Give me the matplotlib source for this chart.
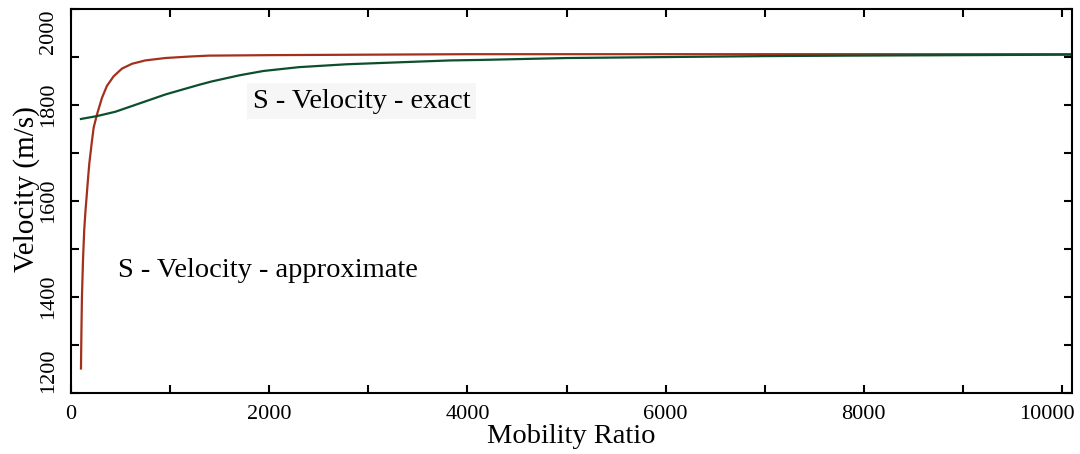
import matplotlib
matplotlib.use("Agg")
import matplotlib.pyplot as plt
from matplotlib.ticker import MultipleLocator
from matplotlib.transforms import ScaledTranslation

plt.rcParams["font.family"] = ["Liberation Serif", "DejaVu Serif"]

# values
approx_x = [101, 106, 111, 122, 134, 146, 158, 172, 185, 210, 229, 262, 313, 363,
            431, 515, 616, 750, 952, 1188, 1390, 2000, 3000, 4000, 6000, 8000, 10100]
approx_y = [1251, 1335, 1401, 1480, 1540, 1578, 1609, 1646, 1678, 1722, 1753, 1780,
            1815, 1840, 1860, 1876, 1886, 1893, 1898, 1901, 1903, 1904, 1905, 1906,
            1906, 1906, 1906]

exact_x = [101, 262, 447, 616, 784, 952, 1120, 1289, 1416, 1700, 1941, 2300, 2782,
           3300, 3824, 4127, 5000, 6000, 7000, 7861, 9000, 10100]
exact_y = [1771, 1777, 1786, 1798, 1810, 1822, 1832, 1842, 1849, 1862, 1871, 1879,
           1885, 1889, 1893, 1894, 1898, 1900, 1902, 1903, 1904, 1905]

x_labels = [0, 2000, 4000, 6000, 8000, 10000]
y_labels = [1200, 1400, 1600, 1800, 2000]

fig = plt.figure(figsize=(10.8, 4.54), dpi=100)
ax = fig.add_axes([0.0657, 0.1344, 0.9269, 0.8456])

ax.plot(approx_x, approx_y, color="#a3301c", lw=1.6)
ax.plot(exact_x, exact_y, color="#0c4f2c", lw=1.6)

ax.set_xlim(0, 10100)
ax.set_ylim(1200, 2000)
ax.set_xticks(x_labels)
ax.set_yticks(y_labels)
ax.xaxis.set_minor_locator(MultipleLocator(1000))
ax.yaxis.set_minor_locator(MultipleLocator(100))

ax.tick_params(which="both", direction="in", top=True, right=True,
               width=1.5, length=6, labelsize=16, color="black")
ax.tick_params(axis="x", pad=9)
ax.tick_params(axis="y", pad=9)

for lab in ax.get_yticklabels():
    lab.set_rotation(90)
    lab.set_va("center")
ylabs = ax.get_yticklabels()
ylabs[0].set_va("bottom")
ylabs[-1].set_va("top")
xlabs = ax.get_xticklabels()
xlabs[-1].set_transform(xlabs[-1].get_transform()
                        + ScaledTranslation(-0.15, 0, fig.dpi_scale_trans))

for s in ax.spines.values():
    s.set_linewidth(1.5)

ax.set_xlabel("Mobility Ratio", fontsize=20.5, labelpad=0)
ax.set_ylabel("Velocity (m/s)", fontsize=21)
ax.yaxis.set_label_coords(-0.031, 0.53)

ax.text(1837, 1808, "S - Velocity - exact", fontsize=20.5, va="center",
        bbox=dict(facecolor="#f6f6f6", edgecolor="none", pad=4))
ax.text(474, 1456, "S - Velocity - approximate", fontsize=20.5, va="center")

fig.savefig("out.png", dpi=100)
